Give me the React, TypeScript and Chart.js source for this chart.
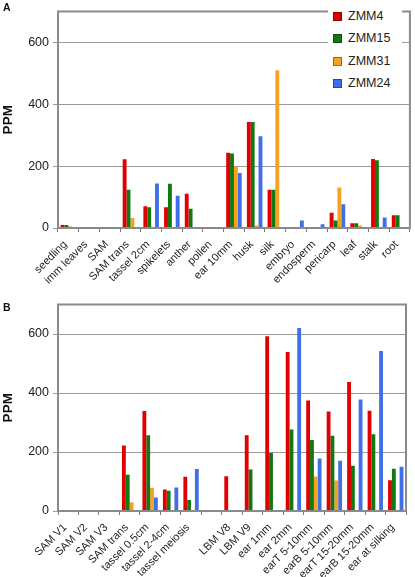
import React, { useEffect, useRef } from "react";
import { Chart, registerables } from "chart.js";
Chart.register(...registerables);

const seriesNames = ["ZMM4", "ZMM15", "ZMM31", "ZMM24"];
const seriesColors = ["#e00000", "#137813", "#f3a322", "#3e6fe6"];
const yTicks = [0, 200, 400, 600];

const tissuesA = ["seedling", "imm leaves", "SAM", "SAM trans", "tassel 2cm", "spikelets", "anther", "pollen", "ear 10mm", "husk", "silk", "embryo", "endosperm", "pericarp", "leaf", "stalk", "root"];
const zmm4A = [10, 0, 0, 222, 70, 67, 111, 2, 243, 343, 124, 0, 3, 49, 15, 223, 41];
const zmm15A = [10, 0, 0, 124, 67, 143, 62, 2, 241, 343, 124, 0, 3, 24, 15, 219, 41];
const zmm31A = [5, 0, 0, 32, 0, 0, 0, 0, 199, 8, 510, 0, 3, 131, 8, 0, 0];
const zmm24A = [0, 0, 0, 0, 144, 104, 0, 2, 178, 297, 0, 24, 12, 77, 0, 34, 0];

const tissuesB = ["SAM V1", "SAM V2", "SAM V3", "SAM trans", "tassel 0.5cm", "tassel 2-4cm", "tassel meiosis", "", "LBM V8", "LBM V9", "ear 1mm", "ear 2mm", "earT 5-10mm", "earB 5-10mm", "earT 15-20mm", "earB 15-20mm", "ear at silking"];
const zmm4B = [0, 0, 0, 222, 339, 73, 116, 0, 118, 257, 592, 539, 375, 337, 437, 340, 104];
const zmm15B = [0, 0, 0, 123, 257, 69, 37, 0, 0, 141, 197, 276, 241, 255, 153, 260, 143];
const zmm31B = [0, 0, 0, 30, 79, 0, 0, 0, 0, 0, 0, 0, 117, 103, 0, 0, 0];
const zmm24B = [0, 0, 0, 0, 46, 80, 142, 0, 0, 0, 0, 620, 178, 170, 378, 542, 150];

const FONT = "'Liberation Sans', Arial, sans-serif";

const framePlugin = {
  id: "frame",
  afterDatasetsDraw(chart: any) {
    const { ctx, chartArea: a } = chart;
    ctx.save();
    ctx.strokeStyle = "#8a8a8a";
    ctx.lineWidth = 2;
    ctx.strokeRect(a.left, a.top, a.right - a.left, a.bottom - a.top);
    ctx.restore();
  },
};

function makeConfig(labels: string[], series: number[][], padTop: number, padRight: number, xHeight: number): any {
  return {
    type: "bar",
    data: {
      labels,
      datasets: series.map((d, i) => ({
        label: seriesNames[i],
        data: d,
        backgroundColor: seriesColors[i],
        borderWidth: 0,
        categoryPercentage: 0.75,
        barPercentage: 1.0,
      })),
    },
    options: {
      animation: false,
      responsive: false,
      devicePixelRatio: 1,
      layout: { padding: { top: padTop, right: padRight, left: 0, bottom: 0 } },
      plugins: { legend: { display: false }, tooltip: { enabled: false } },
      scales: {
        x: {
          grid: { display: true, drawOnChartArea: false, drawTicks: true, tickLength: 4, offset: true, color: "#777" },
          border: { display: false },
          ticks: {
            font: { family: FONT, size: 11 },
            color: "#222",
            minRotation: 45,
            maxRotation: 45,
            autoSkip: false,
            padding: 6,
            labelOffset: -3,
          },
          afterFit: (s: any) => {
            s.height = xHeight;
          },
        },
        y: {
          min: 0,
          max: 700,
          grid: { color: "#9a9a9a", drawTicks: true, tickLength: 5 },
          border: { display: false },
          ticks: { stepSize: 200, font: { family: FONT, size: 12.5 }, color: "#222", padding: 4 },
          afterBuildTicks: (s: any) => {
            s.ticks = yTicks.map((v) => ({ value: v }));
          },
          title: {
            display: true,
            text: "PPM",
            font: { family: FONT, size: 13.5, weight: "bold" },
            color: "#111",
            padding: { top: 0, bottom: 0 },
          },
          afterFit: (s: any) => {
            s.width = 58;
          },
        },
      },
    },
    plugins: [framePlugin],
  };
}

function Panel({ top, height, labels, series, padTop, padRight, xHeight }: any) {
  const ref = useRef<HTMLCanvasElement>(null);
  useEffect(() => {
    const chart = new Chart(ref.current!, makeConfig(labels, series, padTop, padRight, xHeight));
    return () => chart.destroy();
  }, []);
  return (
    <canvas
      ref={ref}
      width={415}
      height={height}
      style={{ position: "absolute", left: 0, top, width: 415, height }}
    />
  );
}

const letterStyle: any = {
  position: "absolute",
  left: 3,
  fontFamily: FONT,
  fontWeight: "bold",
  fontSize: 10.5,
  lineHeight: "12px",
  color: "#111",
};

export default function App() {
  return (
    <div style={{ position: "absolute", left: 0, top: 0, width: 415, height: 577, background: "#fff", overflow: "hidden" }}>
      <Panel top={0} height={290} labels={tissuesA} series={[zmm4A, zmm15A, zmm31A, zmm24A]} padTop={3} padRight={4} xHeight={62} />
      <Panel top={293} height={284} labels={tissuesB} series={[zmm4B, zmm15B, zmm31B, zmm24B]} padTop={10} padRight={9} xHeight={66} />
      <div style={{ ...letterStyle, top: 1 }}>A</div>
      <div style={{ ...letterStyle, top: 301 }}>B</div>
      <div style={{ position: "absolute", left: 328, top: 4, width: 74, height: 90, background: "#fff" }} />
      {seriesNames.map((n, i) => (
        <div key={n}>
          <div
            style={{
              position: "absolute",
              left: 333,
              top: 12 + i * 22.4,
              width: 9,
              height: 9,
              boxSizing: "border-box",
              background: seriesColors[i],
              border: "1px solid rgba(0,0,0,0.35)",
            }}
          />
          <div
            style={{
              position: "absolute",
              left: 348,
              top: 9 + i * 22.4,
              fontFamily: FONT,
              fontSize: 12.5,
              lineHeight: "15px",
              color: "#222",
            }}
          >
            {n}
          </div>
        </div>
      ))}
    </div>
  );
}
